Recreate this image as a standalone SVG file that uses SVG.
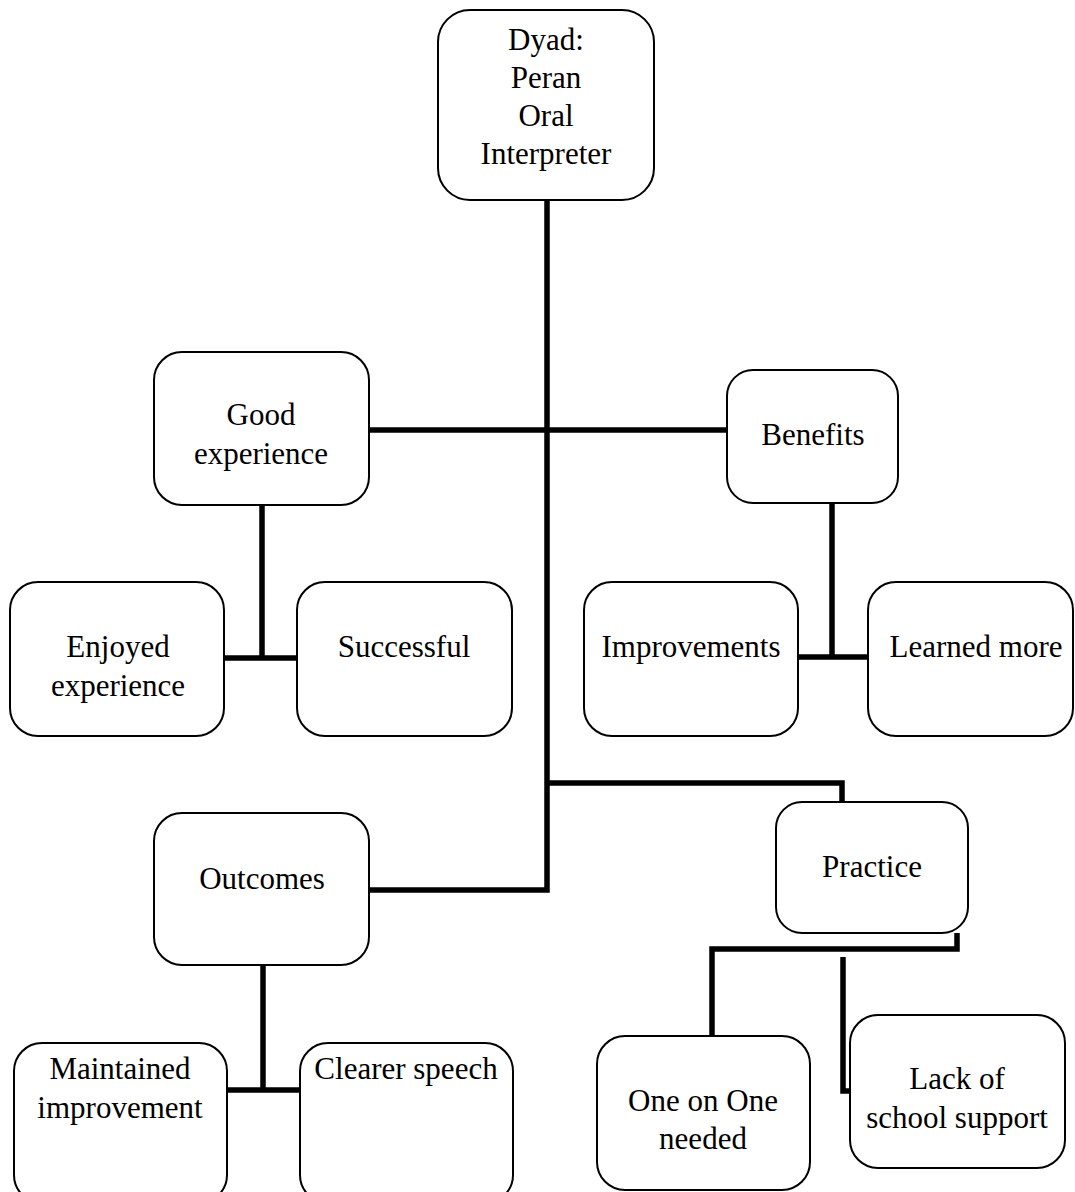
<svg xmlns="http://www.w3.org/2000/svg" width="1075" height="1192" viewBox="0 0 1075 1192">
<style>
.box{fill:#fff;stroke:#000;stroke-width:2}
.t{font-family:"Liberation Serif","Times New Roman",serif;font-size:31px;fill:#000;text-anchor:middle}
.c{fill:none;stroke:#000;stroke-width:5.5}
</style>
<rect width="1075" height="1192" fill="#fff"/>
<g id="connectors">
<path class="c" d="M547 200 V890 H369"/>
<path class="c" d="M369 430 H727"/>
<path class="c" d="M262 505 V658"/>
<path class="c" d="M224 658 H297"/>
<path class="c" d="M832 503 V657"/>
<path class="c" d="M798 657 H868"/>
<path class="c" d="M547 783 H842 V802"/>
<path class="c" d="M263 965 V1090"/>
<path class="c" d="M227 1090 H300"/>
<path class="c" d="M957 933 V949 H712 V1042"/>
<path class="c" d="M843 957 V1091 H850"/>
</g>
<g id="n-dyad"><rect class="box" x="438" y="10" width="216" height="190" rx="32"/>
<text class="t" x="546" y="50">Dyad:</text><text class="t" x="546" y="88">Peran</text><text class="t" x="546" y="126">Oral</text><text class="t" x="546" y="164">Interpreter</text></g>
<g id="n-good"><rect class="box" x="154" y="352" width="215" height="153" rx="28"/>
<text class="t" x="261" y="425">Good</text><text class="t" x="261" y="464">experience</text></g>
<g id="n-benefits"><rect class="box" x="727" y="370" width="171" height="133" rx="26"/>
<text class="t" x="813" y="445">Benefits</text></g>
<g id="n-enjoyed"><rect class="box" x="10" y="582" width="214" height="154" rx="28"/>
<text class="t" x="118" y="657">Enjoyed</text><text class="t" x="118" y="696">experience</text></g>
<g id="n-successful"><rect class="box" x="297" y="582" width="215" height="154" rx="28"/>
<text class="t" x="404" y="657">Successful</text></g>
<g id="n-improvements"><rect class="box" x="584" y="582" width="214" height="154" rx="28"/>
<text class="t" x="691" y="657">Improvements</text></g>
<g id="n-learned"><rect class="box" x="868" y="582" width="205" height="154" rx="28"/>
<text class="t" x="976" y="657">Learned more</text></g>
<g id="n-outcomes"><rect class="box" x="154" y="813" width="215" height="152" rx="28"/>
<text class="t" x="262" y="889">Outcomes</text></g>
<g id="n-practice"><rect class="box" x="776" y="802" width="192" height="131" rx="26"/>
<text class="t" x="872" y="877">Practice</text></g>
<g id="n-maintained"><rect class="box" x="14" y="1043" width="213" height="160" rx="28"/>
<text class="t" x="120" y="1079">Maintained</text><text class="t" x="120" y="1118">improvement</text></g>
<g id="n-clearer"><rect class="box" x="300" y="1043" width="213" height="160" rx="28"/>
<text class="t" x="406" y="1079">Clearer speech</text></g>
<g id="n-oneonone"><rect class="box" x="597" y="1036" width="213" height="154" rx="28"/>
<text class="t" x="703" y="1111">One on One</text><text class="t" x="703" y="1149">needed</text></g>
<g id="n-lack"><rect class="box" x="850" y="1015" width="215" height="153" rx="28"/>
<text class="t" x="957" y="1089">Lack of</text><text class="t" x="957" y="1128">school support</text></g>
</svg>
